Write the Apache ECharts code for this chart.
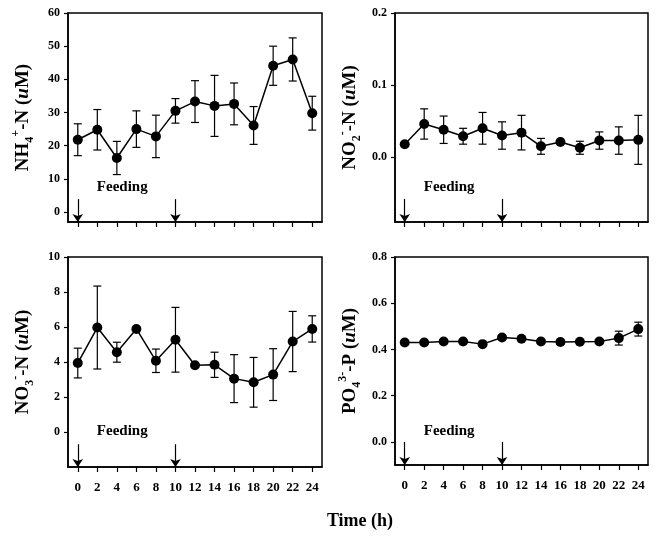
<!DOCTYPE html>
<html>
<head>
<meta charset="utf-8">
<script src="https://cdn.jsdelivr.net/npm/echarts@6/dist/echarts.min.js"></script>
<style>
html,body{margin:0;padding:0;background:#fff}
#main{width:656px;height:538px}
</style>
</head>
<body>
<div id="main"></div>
<script>
// 时间点 (h)
var hours = [0, 2, 4, 6, 8, 10, 12, 14, 16, 18, 20, 22, 24];
var xTicks = [0, 2, 4, 6, 8, 10, 12, 14, 16, 18, 20, 22, 24];
var feedTimes = [0, 10];

// NH4+-N
var nh4Mean = [21.8, 24.8, 16.3, 25.0, 22.8, 30.5, 33.3, 32.0, 32.6, 26.1, 44.1, 46.0, 29.8];
var nh4Sd   = [4.8, 6.1, 5.0, 5.5, 6.4, 3.7, 6.3, 9.2, 6.3, 5.7, 5.9, 6.5, 5.1];
var nh4Ticks = [0, 10, 20, 30, 40, 50, 60];

// NO2--N
var no2Mean = [0.018, 0.046, 0.038, 0.029, 0.040, 0.030, 0.034, 0.015, 0.021, 0.013, 0.023, 0.023, 0.024];
var no2Sd   = [0.002, 0.021, 0.019, 0.011, 0.022, 0.019, 0.024, 0.011, 0.002, 0.009, 0.012, 0.019, 0.034];
var no2Ticks = [0, 0.1, 0.2];

// NO3--N
var no3Mean = [3.94, 5.97, 4.56, 5.89, 4.07, 5.27, 3.81, 3.84, 3.05, 2.84, 3.28, 5.17, 5.89];
var no3Sd   = [0.85, 2.37, 0.57, 0.05, 0.67, 1.85, 0.05, 0.72, 1.37, 1.42, 1.48, 1.72, 0.75];
var no3Ticks = [0, 2, 4, 6, 8, 10];

// PO4 3--P
var po4Mean = [0.430, 0.430, 0.434, 0.434, 0.423, 0.452, 0.446, 0.434, 0.432, 0.433, 0.434, 0.449, 0.488];
var po4Sd   = [0.004, 0.004, 0.004, 0.004, 0.004, 0.008, 0.005, 0.004, 0.010, 0.004, 0.004, 0.030, 0.030];
var po4Ticks = [0, 0.2, 0.4, 0.6, 0.8];

var chart = echarts.init(document.getElementById('main'));
var serif = '"Liberation Serif", "Times New Roman", serif';

// 四个子图的配置
var panels = [
    {left: 68, top: 13, w: 254, h: 209, ymin: -3, ymax: 60, ticks: nh4Ticks, dec: 0,
     mean: nh4Mean, sd: nh4Sd, feedY: 7.5, arrowTop: 3.9, showX: false,
     name: 'NH{sub|4}{sup|+}-N ({it|u}M)'},
    {left: 395, top: 13, w: 253, h: 209, ymin: -0.09, ymax: 0.2, ticks: no2Ticks, dec: 1,
     mean: no2Mean, sd: no2Sd, feedY: -0.042, arrowTop: -0.058, showX: false,
     name: 'NO{sub|2}{sup|-}-N ({it|u}M)'},
    {left: 68, top: 257, w: 254, h: 210, ymin: -2, ymax: 10, ticks: no3Ticks, dec: 0,
     mean: no3Mean, sd: no3Sd, feedY: 0.06, arrowTop: -0.7, showX: true,
     name: 'NO{sub|3}{sup|-}-N ({it|u}M)'},
    {left: 395, top: 257, w: 253, h: 208, ymin: -0.1, ymax: 0.8, ticks: po4Ticks, dec: 1,
     mean: po4Mean, sd: po4Sd, feedY: 0.047, arrowTop: 0.0, showX: true,
     name: 'PO{sub|4}{sup|3-}-P ({it|u}M)'}
];

function renderErr(params, api) {
    var x = api.value(0);
    var lo = api.value(1);
    var hi = api.value(2);
    var p1 = api.coord([x, hi]);
    var p2 = api.coord([x, lo]);
    var w = 4;
    var st = {stroke: '#000', lineWidth: 1.2};
    return {type: 'group', children: [
        {type: 'line', shape: {x1: p1[0], y1: p1[1], x2: p2[0], y2: p2[1]}, style: st},
        {type: 'line', shape: {x1: p1[0] - w, y1: p1[1], x2: p1[0] + w, y2: p1[1]}, style: st},
        {type: 'line', shape: {x1: p2[0] - w, y1: p2[1], x2: p2[0] + w, y2: p2[1]}, style: st}
    ]};
}

var grids = [], xAxes = [], yAxes = [], series = [];
panels.forEach(function (p, i) {
    grids.push({
        left: p.left, top: p.top, width: p.w, height: p.h,
        show: true, borderColor: '#000', borderWidth: 1.5, backgroundColor: 'transparent'
    });
    xAxes.push({
        type: 'value', gridIndex: i, min: -1, max: 25,
        splitLine: {show: false},
        axisLine: {show: true, onZero: false, lineStyle: {color: '#000', width: 1.5}},
        axisTick: {show: true, inside: false, length: 5, customValues: xTicks, lineStyle: {color: '#000', width: 1.2}},
        axisLabel: {show: p.showX, customValues: xTicks, margin: 14, color: '#000',
            fontFamily: serif, fontWeight: 'bold', fontSize: 13}
    });
    yAxes.push({
        type: 'value', gridIndex: i, min: p.ymin, max: p.ymax,
        splitLine: {show: false},
        axisLine: {show: true, onZero: false, lineStyle: {color: '#000', width: 1.5}},
        axisTick: {show: true, length: 4, customValues: p.ticks, lineStyle: {color: '#000', width: 1.2}},
        axisLabel: {customValues: p.ticks, margin: 8, color: '#000',
            fontFamily: serif, fontWeight: 'bold', fontSize: 12,
            formatter: function (v) { return v.toFixed(p.dec); }},
        name: p.name, nameLocation: 'middle', nameGap: 32,
        nameTextStyle: {
            color: '#000', fontFamily: serif, fontWeight: 'bold', fontSize: 19,
            rich: {
                sub: {fontFamily: serif, fontWeight: 'bold', fontSize: 12, padding: [14, 0, 0, 0]},
                sup: {fontFamily: serif, fontWeight: 'bold', fontSize: 12, padding: [0, 0, 14, 0]},
                it: {fontFamily: serif, fontWeight: 'bold', fontStyle: 'italic', fontSize: 19}
            }
        }
    });

    var pts = [], errs = [];
    for (var k = 0; k < hours.length; k++) {
        pts.push([hours[k], p.mean[k]]);
        errs.push([hours[k], p.mean[k] - p.sd[k], p.mean[k] + p.sd[k]]);
    }
    series.push({
        type: 'custom', xAxisIndex: i, yAxisIndex: i, renderItem: renderErr,
        encode: {x: 0, y: [1, 2]}, data: errs, z: 2, silent: true
    });
    series.push({
        type: 'line', xAxisIndex: i, yAxisIndex: i, data: pts, z: 3,
        symbol: 'circle', symbolSize: 10,
        lineStyle: {color: '#000', width: 1.5},
        itemStyle: {color: '#000'},
        markPoint: {
            silent: true,
            data: [{coord: [1.9, p.feedY], symbol: 'circle', symbolSize: 1,
                itemStyle: {color: 'rgba(0,0,0,0)'},
                label: {show: true, position: 'right', distance: 0, formatter: 'Feeding',
                    color: '#000', fontFamily: serif, fontWeight: 'bold', fontSize: 15}}]
        },
        markLine: {
            silent: true, symbol: ['none', 'arrow'], symbolSize: 8,
            lineStyle: {color: '#000', width: 1.2, type: 'solid'},
            label: {show: false},
            data: feedTimes.map(function (t) {
                return [{coord: [t, p.arrowTop]}, {coord: [t, p.ymin]}];
            })
        }
    });
});

var option = {
    backgroundColor: '#fff',
    animation: false,
    grid: grids,
    xAxis: xAxes,
    yAxis: yAxes,
    series: series,
    graphic: [{
        type: 'text', x: 360, y: 521,
        style: {text: 'Time (h)', fill: '#000', fontFamily: serif, fontWeight: 'bold', fontSize: 18,
            align: 'center', verticalAlign: 'middle'}
    }]
};
chart.setOption(option);
</script>
</body>
</html>
